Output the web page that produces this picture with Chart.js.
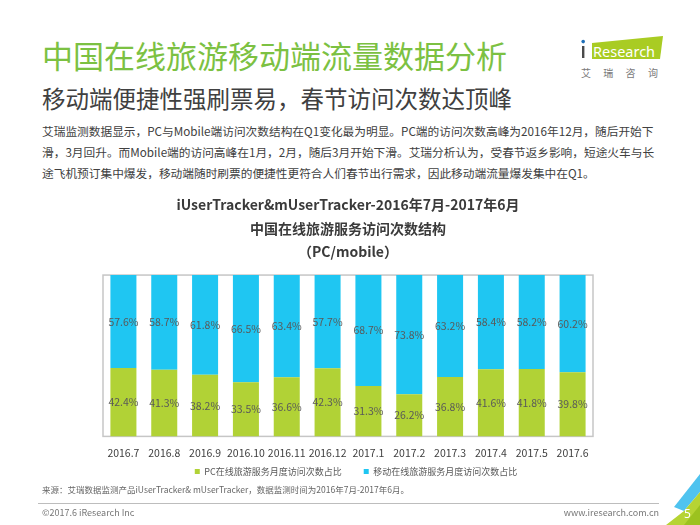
<!DOCTYPE html>
<html>
<head>
<meta charset="utf-8">
<script src="https://cdn.jsdelivr.net/npm/chart.js@4"></script>
<style>
  html, body { margin:0; padding:0; background:#fff; }
  body { width:700px; height:525px; position:relative; overflow:hidden; font-family:"Noto Sans CJK SC","Noto Sans",sans-serif; }
  .abs { position:absolute; white-space:nowrap; }
  #title { left:42px; top:36px; font-size:31px; line-height:38px; color:#7cc142; }
  #subtitle { left:42px; top:83px; font-size:23.5px; line-height:30px; color:#404040; }
  #para { left:42px; top:120px; font-size:11.7px; line-height:21px; color:#404040; }
  #chartwrap { position:absolute; left:0; top:190px; width:700px; height:312px; }
  #source { left:42px; top:482px; font-size:8.5px; line-height:14px; color:#666; }
  #rule { position:absolute; left:38px; top:503px; width:621px; height:1px; background:#bdbdbd; }
  #copy { left:42px; top:506px; font-size:9px; line-height:14px; color:#777; }
  #web { right:41px; top:506px; font-size:9px; line-height:14px; color:#777; }
  #cn { left:581px; top:66px; font-size:10px; line-height:14px; color:#7a7a7a; letter-spacing:12.3px; }
</style>
</head>
<body>
<div id="title" class="abs">中国在线旅游移动端流量数据分析</div>
<div id="subtitle" class="abs">移动端便捷性强刷票易，春节访问次数达顶峰</div>
<div id="para" class="abs">艾瑞监测数据显示，PC与Mobile端访问次数结构在Q1变化最为明显。PC端的访问次数高峰为2016年12月，随后开始下<br>滑，3月回升。而Mobile端的访问高峰在1月，2月，随后3月开始下滑。艾瑞分析认为，受春节返乡影响，短途火车与长<br>途飞机预订集中爆发，移动端随时刷票的便捷性更符合人们春节出行需求，因此移动端流量爆发集中在Q1。</div>

<svg class="abs" style="left:570px;top:30px" width="100" height="40" viewBox="570 30 100 40">
  <polygon points="592,43 663,36 660,59 592,59" fill="#a9cc23"/>
  <rect x="582" y="46" width="2.4" height="12" fill="#4a4a4a"/>
  <circle cx="583.2" cy="41.6" r="1.8" fill="#1f6fb8"/>
  <text x="593" y="56.5" font-family="Noto Sans, sans-serif" font-size="14.5" fill="#fff">Research</text>
</svg>
<div id="cn" class="abs">艾瑞咨询</div>

<div id="chartwrap"><canvas id="c"></canvas></div>

<div id="source" class="abs">来源：艾瑞数据监测产品iUserTracker&amp; mUserTracker，数据监测时间为2016年7月-2017年6月。</div>
<div id="rule"></div>
<div id="copy" class="abs">©2017.6 iResearch Inc</div>
<div id="web" class="abs">www.iresearch.com.cn</div>
<svg class="abs" style="left:660px;top:470px" width="40" height="55" viewBox="660 470 40 55">
  <polygon points="674,507 700,474 700,492 684,511" fill="#4fc3ef"/>
  <polygon points="666,525 684,511 700,492 700,525" fill="#b6d433"/>
  <polygon points="684,525 700,505 700,525" fill="#9cc21f"/>
  <text x="684" y="518" font-family="Noto Sans, sans-serif" font-size="12" fill="#fff">5</text>
</svg>

<script>
const categories = ['2016.7','2016.8','2016.9','2016.10','2016.11','2016.12','2017.1','2017.2','2017.3','2017.4','2017.5','2017.6'];
const pcShare = [42.4, 41.3, 38.2, 33.5, 36.6, 42.3, 31.3, 26.2, 36.8, 41.6, 41.8, 39.8];
const mobileShare = [57.6, 58.7, 61.8, 66.5, 63.4, 57.7, 68.7, 73.8, 63.2, 58.4, 58.2, 60.2];
const seriesNames = ['PC在线旅游服务月度访问次数占比', '移动在线旅游服务月度访问次数占比'];
const chartTitle = ['iUserTracker&mUserTracker-2016年7月-2017年6月', '中国在线旅游服务访问次数结构', '（PC/mobile）'];

const FONT = '"Noto Sans CJK SC", "Noto Sans", sans-serif';

const frame = {
  id: 'frame',
  beforeDatasetsDraw(chart) {
    const a = chart.chartArea, ctx = chart.ctx;
    ctx.save();
    ctx.strokeStyle = '#c6c6c6';
    ctx.lineWidth = 1.5;
    ctx.strokeRect(a.left, a.top, a.right - a.left, a.bottom - a.top);
    ctx.restore();
  }
};
const labels = {
  id: 'vlabels',
  afterDatasetsDraw(chart) {
    const ctx = chart.ctx;
    ctx.save();
    ctx.font = '10.5px ' + FONT;
    ctx.fillStyle = '#595959';
    ctx.textAlign = 'center';
    ctx.textBaseline = 'middle';
    chart.data.datasets.forEach((ds, i) => {
      chart.getDatasetMeta(i).data.forEach((el, j) => {
        ctx.fillText(ds.data[j].toFixed(1) + '%', el.x, (el.y + el.base) / 2);
      });
    });
    ctx.restore();
  }
};
const legendShift = {
  id: 'legendShift',
  afterLayout(chart) {
    const lg = chart.legend;
    if (!lg) return;
    lg.top -= 16; lg.bottom -= 16;
    lg.left += 8; lg.right += 8;
  }
};

new Chart(document.getElementById('c'), {
  type: 'bar',
  data: {
    labels: categories,
    datasets: [
      { label: seriesNames[0], data: pcShare, backgroundColor: '#b1d236' },
      { label: seriesNames[1], data: mobileShare, backgroundColor: '#1fc6f2' }
    ]
  },
  options: {
    responsive: true,
    maintainAspectRatio: false,
    animation: false,
    datasets: { bar: { categoryPercentage: 1, barPercentage: 0.637 } },
    layout: { padding: { left: 103, right: 107, top: 0, bottom: 0 } },
    scales: {
      x: {
        stacked: true,
        grid: { display: false },
        border: { display: false },
        ticks: { color: '#404040', font: { family: FONT, size: 10.5 }, padding: 2, autoSkip: false, maxRotation: 0 }
      },
      y: { stacked: true, min: 0, max: 100, display: false }
    },
    plugins: {
      title: {
        display: true,
        text: chartTitle,
        color: '#3a3a3a',
        font: { family: FONT, size: 14, weight: 'bold', lineHeight: 1.68 },
        padding: { top: 3, bottom: 11.5 }
      },
      legend: {
        position: 'bottom',
        labels: { boxWidth: 5, boxHeight: 5, color: '#595959', font: { family: FONT, size: 9 }, padding: 22 }
      },
      tooltip: { enabled: false }
    }
  },
  plugins: [frame, labels, legendShift]
});
</script>
</body>
</html>
